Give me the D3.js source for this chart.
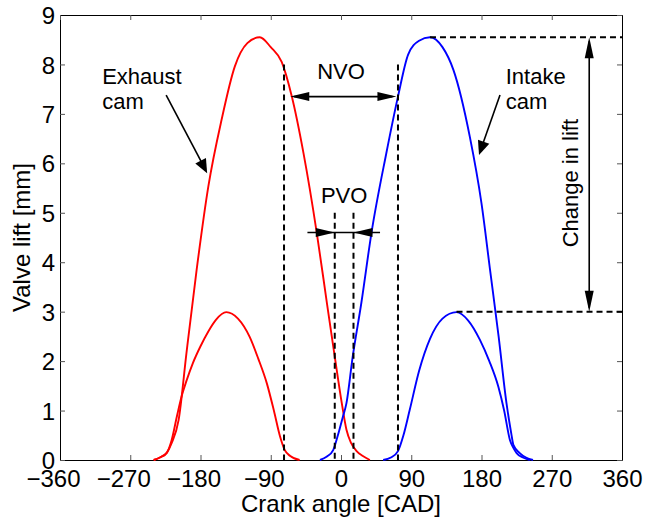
<!DOCTYPE html>
<html>
<head>
<meta charset="utf-8">
<script src="https://cdn.jsdelivr.net/npm/d3@7"></script>
<style>
  body { margin: 0; background: #fff; }
  svg text { font-family: "Liberation Sans", Arial, Helvetica, sans-serif; fill: #000; }
</style>
</head>
<body>
<div id="chart"></div>
<script>
// valve lift curves, [crank angle (CAD), lift (mm)]
const exhaustHigh = [[-240, 0], [-232, 0.05], [-223, 0.15], [-217, 0.34], [-208, 0.81], [-198, 2.16],
    [-185, 3.84], [-170, 5.53], [-153, 6.88], [-136, 7.96], [-120, 8.43], [-104, 8.55], [-90, 8.35],
    [-76, 8.05], [-63, 7.35], [-48, 6.2], [-31, 4.59], [-18, 3.17], [-8, 2.09], [1, 1.15], [7, 0.61],
    [13, 0.34], [20, 0.18], [28, 0.08], [37, 0]];
const exhaustLow = [[-240, 0], [-232, 0.05], [-223, 0.15], [-217, 0.4], [-210, 0.9], [-204, 1.3],
    [-198, 1.6], [-190, 1.95], [-180, 2.3], [-170, 2.6], [-160, 2.84], [-147, 2.99], [-132, 2.86],
    [-117, 2.49], [-106, 2.05], [-95, 1.55], [-86, 1.0], [-78, 0.47], [-72, 0.2], [-65, 0.08], [-53, 0]];
const intakeHigh = [[-27, 0], [-18, 0.07], [-10, 0.2], [-4, 0.5], [2, 0.85], [7, 1.15], [15, 2.09],
    [26, 3.17], [39, 4.59], [58, 6.2], [73, 7.35], [86, 8.2], [100, 8.48], [114, 8.55], [130, 8.35],
    [144, 7.89], [165, 6.54], [180, 5.19], [191, 3.84], [202, 2.49], [212, 1.15], [218, 0.55],
    [221, 0.3], [229, 0.14], [237, 0.05], [246, 0]];
const intakeLow = [[54, 0], [64, 0.05], [73, 0.18], [80, 0.5], [88, 1.01], [100, 1.8], [114, 2.45],
    [130, 2.86], [148, 2.99], [163, 2.82], [178, 2.43], [190, 2.0], [201.6, 1.48], [209, 1.0],
    [216.5, 0.4], [221, 0.24], [225, 0.14], [233, 0.05], [242, 0]];

// axis ticks
const xTicks = [-360, -270, -180, -90, 0, 90, 180, 270, 360];
const yTicks = [0, 1, 2, 3, 4, 5, 6, 7, 8, 9];

// annotation values
const nvoCad = [-73, 73];         // dashed NVO lines
const pvoCad = [-8, 16];          // dashed PVO lines
const nvoArrow = [-65, 71, 7.35]; // from, to, lift
const pvoArrow = [-43, 50, 4.6];
const liftPeaks = [[114, 8.55], [148, 3]];
const changeArrowCad = 318;

let margin = { left: 60, bottom: 61, top: 15, right: 24 };
let width = 646 - margin.left - margin.right;
let height = 521 - margin.top - margin.bottom;

let svg = d3.select('#chart').append('svg')
    .attr('width', 646)
    .attr('height', 521)
    .style('display', 'block');

svg.append('rect').attr('width', 646).attr('height', 521).attr('fill', '#fff');

let g = svg.append('g')
    .attr('transform', 'translate(' + margin.left + ',' + margin.top + ')');

let x = d3.scaleLinear().domain([-360, 360]).range([0, width]);
let y = d3.scaleLinear().domain([0, 9]).range([height, 0]);

// axes, ticks point inwards like matlab
let xAxis = d3.axisBottom(x).tickValues(xTicks).tickSizeInner(-5).tickSizeOuter(0);
let xg = g.append('g')
    .attr('transform', 'translate(0,' + height + ')')
    .call(xAxis);
xg.selectAll('text')
    .attr('y', 27).attr('dy', 0)
    .attr('dx', function (d) { return d < 0 ? -7 : 0; })
    .style('font-size', '24px');

let yAxis = d3.axisLeft(y).tickValues(yTicks).tickSizeInner(-5).tickSizeOuter(0);
let yg = g.append('g').call(yAxis);
yg.selectAll('text')
    .attr('x', -5).attr('dy', '0.36em')
    .style('font-size', '24px');

g.append('g').call(d3.axisTop(x).tickValues(xTicks).tickSizeInner(-5).tickSizeOuter(0).tickFormat(''));
g.append('g').attr('transform', 'translate(' + width + ',0)')
    .call(d3.axisRight(y).tickValues(yTicks).tickSizeInner(-5).tickSizeOuter(0).tickFormat(''));

g.selectAll('.tick line').attr('stroke', '#555');
g.selectAll('.domain').attr('stroke', '#000');

// axis labels
g.append('text')
    .attr('x', width / 2)
    .attr('y', height + 52)
    .attr('text-anchor', 'middle')
    .style('font-size', '24px')
    .text('Crank angle [CAD]');

g.append('text')
    .attr('transform', 'translate(' + (22 - margin.left) + ',' + (height / 2) + ') rotate(-90)')
    .attr('dy', '0.35em')
    .attr('text-anchor', 'middle')
    .style('font-size', '24px')
    .text('Valve lift [mm]');

// lift curves
let line = d3.line()
    .x(function (d) { return x(d[0]); })
    .y(function (d) { return y(d[1]); })
    .curve(d3.curveMonotoneX);

[[exhaustHigh, 'red'], [exhaustLow, 'red'], [intakeHigh, 'blue'], [intakeLow, 'blue']].forEach(function (s) {
    g.append('path')
        .datum(s[0])
        .attr('d', line)
        .attr('fill', 'none')
        .attr('stroke', s[1] === 'red' ? '#ff0000' : '#0000ff')
        .attr('stroke-width', 1.9);
});

// dashed helper lines
function dashed(x1, y1, x2, y2) {
    g.append('line')
        .attr('x1', x1).attr('y1', y1).attr('x2', x2).attr('y2', y2)
        .attr('stroke', '#000')
        .attr('stroke-width', 2)
        .attr('stroke-dasharray', '6,4');
}
nvoCad.forEach(function (c) { dashed(x(c), y(8), x(c), y(0)); });
pvoCad.forEach(function (c) { dashed(x(c), y(5), x(c), y(0)); });
liftPeaks.forEach(function (p) { dashed(x(p[0]), y(p[1]), width, y(p[1])); });

// arrows
function arrowLine(x1, y1, x2, y2) {
    g.append('line')
        .attr('x1', x1).attr('y1', y1).attr('x2', x2).attr('y2', y2)
        .attr('stroke', '#000')
        .attr('stroke-width', 1.6);
}
// head with tip at (tx,ty), pointing away from (fx,fy)
function head(fx, fy, tx, ty, len, hw) {
    let dx = tx - fx, dy = ty - fy;
    let l = Math.sqrt(dx * dx + dy * dy);
    let ux = dx / l, uy = dy / l;
    let bx = tx - ux * len, by = ty - uy * len;
    g.append('path')
        .attr('d', 'M' + tx + ',' + ty +
            'L' + (bx - uy * hw) + ',' + (by + ux * hw) +
            'L' + (bx + uy * hw) + ',' + (by - ux * hw) + 'Z')
        .attr('fill', '#000');
}

// NVO, heads outward
let ny = y(nvoArrow[2]);
arrowLine(x(nvoArrow[0]) + 4, ny, x(nvoArrow[1]) - 4, ny);
head(x(0), ny, x(nvoArrow[0]), ny, 19, 4.5);
head(x(0), ny, x(nvoArrow[1]), ny, 19, 4.5);
g.append('text')
    .attr('x', x(0)).attr('y', y(7.7))
    .attr('text-anchor', 'middle')
    .style('font-size', '22px')
    .text('NVO');

// PVO, heads inward
let py = y(pvoArrow[2]);
arrowLine(x(pvoArrow[0]), py, x(pvoArrow[1]), py);
head(x(pvoArrow[0]), py, x(pvoCad[0]), py, 19, 4.5);
head(x(pvoArrow[1]), py, x(pvoCad[1]), py, 19, 4.5);
g.append('text')
    .attr('x', x(4)).attr('y', y(5.2))
    .attr('text-anchor', 'middle')
    .style('font-size', '22px')
    .text('PVO');

// change in lift
let cx = x(changeArrowCad);
arrowLine(cx, y(liftPeaks[0][1]) + 4, cx, y(liftPeaks[1][1]) - 4);
head(cx, y(5), cx, y(liftPeaks[0][1]), 21, 4.5);
head(cx, y(5), cx, y(liftPeaks[1][1]), 21, 4.5);
g.append('text')
    .attr('transform', 'translate(' + x(294) + ',' + y(5.6) + ') rotate(-90)')
    .attr('dy', '0.35em')
    .attr('text-anchor', 'middle')
    .style('font-size', '22px')
    .text('Change in lift');

// cam labels
function camLabel(cad, lines) {
    let t = g.append('text')
        .attr('x', x(cad))
        .attr('y', y(7.6))
        .style('font-size', '22px');
    lines.forEach(function (s, i) {
        t.append('tspan').attr('x', x(cad)).attr('dy', i === 0 ? 0 : 25).text(s);
    });
}
camLabel(-306, ['Exhaust', 'cam']);
camLabel(211, ['Intake', 'cam']);

let e0 = [x(-224), y(7.38)], e1 = [x(-171.5), y(5.8)];
arrowLine(e0[0], e0[1], e1[0] - 3, e1[1] - 6);
head(e0[0], e0[1], e1[0], e1[1], 14, 6);

let i0 = [x(203.7), y(7.38)], i1 = [x(176.8), y(6.17)];
arrowLine(i0[0], i0[1], i1[0] + 2, i1[1] - 6);
head(i0[0], i0[1], i1[0], i1[1], 14, 6);
</script>
</body>
</html>
